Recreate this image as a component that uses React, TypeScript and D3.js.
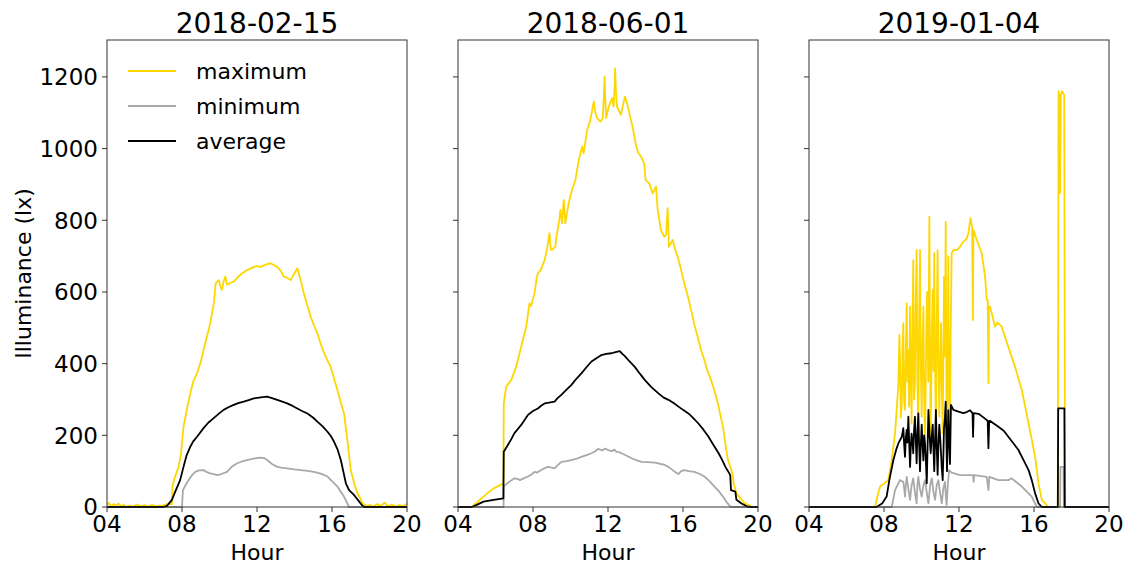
import React from "react";
import * as d3 from "d3";

type P = [number, number];

const titles = ["2018-02-15", "2018-06-01", "2019-01-04"];
const xTicks = [4, 8, 12, 16, 20];
const xTickLabels = ["04", "08", "12", "16", "20"];
const yTicks = [0, 200, 400, 600, 800, 1000, 1200];
const legendLabels = ["maximum", "minimum", "average"];
const seriesColors = ["#FFD700", "#A9A9A9", "#000000"];

const p1Max: P[] = [[4.0,5],[4.1,12],[4.2,2],[4.35,8],[4.5,3],[4.6,10],[4.75,2],[4.9,6],[5.0,0],[5.2,4],[5.4,1],[5.6,7],[5.8,2],[6.0,5],[6.2,1],[6.4,6],[6.6,2],[6.8,4],[6.95,3],[7.2,8],[7.46,8],[7.5,60],[7.6,80],[7.82,112],[7.95,150],[8.08,224],[8.25,270],[8.44,317],[8.6,350],[8.8,373],[9.0,405],[9.15,438],[9.35,480],[9.51,513],[9.7,570],[9.8,625],[9.87,629],[9.96,633],[10.05,615],[10.13,606],[10.22,630],[10.31,643],[10.4,620],[10.55,625],[10.76,629],[10.95,640],[11.12,648],[11.3,655],[11.47,661],[11.65,665],[11.83,670],[12.0,672],[12.19,670],[12.4,675],[12.55,678],[12.72,680],[12.9,675],[13.08,670],[13.25,660],[13.43,643],[13.6,640],[13.79,633],[13.95,648],[14.15,666],[14.33,633],[14.5,596],[14.7,560],[14.86,531],[15.05,505],[15.22,485],[15.4,455],[15.58,429],[15.75,410],[15.93,391],[16.1,360],[16.29,326],[16.45,295],[16.64,261],[16.82,187],[17.0,103],[17.18,66],[17.36,38],[17.5,25],[17.63,10],[17.9,2],[18.0,6],[18.2,1],[18.4,8],[18.6,3],[18.8,12],[19.0,2],[19.2,7],[19.4,1],[19.6,5],[19.8,2],[20.0,9]];
const p1Min: P[] = [[4,0],[8.0,0],[8.05,47],[8.2,62],[8.35,75],[8.55,90],[8.71,98],[8.9,102],[9.15,103],[9.3,98],[9.51,94],[9.7,92],[9.87,89],[10.1,92],[10.4,98],[10.65,112],[10.94,122],[11.2,127],[11.47,131],[11.8,135],[12.19,138],[12.4,136],[12.54,131],[12.8,120],[13.08,112],[13.3,110],[13.61,108],[14.0,105],[14.33,103],[14.7,101],[15.04,98],[15.4,93],[15.76,85],[16.0,72],[16.29,57],[16.45,44],[16.64,29],[16.8,12],[16.91,0],[20,0]];
const p1Avg: P[] = [[4,0],[7.0,0],[7.2,3],[7.46,20],[7.64,43],[7.9,75],[8.08,112],[8.25,145],[8.44,168],[8.6,183],[8.8,196],[9.15,220],[9.4,235],[9.69,248],[10.0,262],[10.22,271],[10.5,279],[10.76,285],[11.0,290],[11.29,294],[11.6,299],[11.83,303],[12.2,306],[12.54,308],[12.8,304],[13.08,299],[13.35,294],[13.61,289],[13.9,282],[14.15,275],[14.4,268],[14.69,261],[15.0,249],[15.22,238],[15.5,225],[15.76,210],[15.95,197],[16.11,182],[16.3,160],[16.47,131],[16.6,100],[16.74,66],[16.91,47],[17.05,40],[17.18,33],[17.3,25],[17.45,15],[17.6,5],[17.72,0],[20,0]];

const p2Max: P[] = [[4,0],[4.73,0],[5.0,12],[5.36,29],[5.6,40],[5.9,52],[6.25,61],[6.42,66],[6.44,289],[6.57,336],[6.84,354],[7.1,391],[7.37,447],[7.64,503],[7.81,568],[7.9,560],[8.08,596],[8.2,640],[8.26,652],[8.4,660],[8.62,689],[8.75,720],[8.88,764],[8.95,717],[9.05,720],[9.19,726],[9.25,754],[9.4,800],[9.46,829],[9.55,792],[9.64,857],[9.72,792],[9.9,847],[10.08,885],[10.26,912],[10.35,940],[10.44,968],[10.62,1006],[10.7,987],[10.89,1052],[11.06,1080],[11.15,1105],[11.24,1131],[11.35,1095],[11.42,1085],[11.6,1075],[11.72,1085],[11.78,1150],[11.82,1201],[11.86,1130],[11.9,1085],[12.04,1117],[12.22,1141],[12.3,1117],[12.36,1180],[12.38,1224],[12.42,1160],[12.48,1117],[12.69,1094],[12.9,1145],[13.04,1122],[13.2,1085],[13.31,1061],[13.49,1010],[13.6,990],[13.76,978],[13.93,959],[14.0,913],[14.2,903],[14.38,875],[14.56,894],[14.65,829],[14.82,773],[15.0,754],[15.1,760],[15.18,834],[15.25,726],[15.45,745],[15.6,715],[15.72,698],[15.9,661],[16.07,624],[16.25,590],[16.43,550],[16.6,510],[16.78,475],[16.95,440],[17.14,410],[17.3,380],[17.5,354],[17.7,320],[17.86,289],[18.0,255],[18.13,224],[18.28,170],[18.4,131],[18.58,103],[18.65,90],[18.7,66],[18.85,38],[19.12,20],[19.3,10],[19.48,6],[19.7,0],[20,0]];
const p2Min: P[] = [[4,0],[6.43,0],[6.44,57],[6.6,65],[6.75,71],[7.01,80],[7.2,78],[7.3,75],[7.5,80],[7.73,85],[7.9,90],[8.08,98],[8.2,96],[8.44,103],[8.6,108],[8.8,112],[9.0,110],[9.15,108],[9.35,118],[9.51,126],[9.8,128],[10.04,131],[10.3,134],[10.58,140],[10.85,145],[11.12,150],[11.3,155],[11.47,162],[11.7,158],[11.85,163],[12.01,159],[12.2,156],[12.35,160],[12.45,154],[12.6,153],[12.72,150],[13.0,143],[13.26,136],[13.5,131],[13.79,126],[14.1,125],[14.5,124],[14.8,120],[15.0,118],[15.22,112],[15.4,105],[15.6,97],[15.76,92],[15.9,100],[16.07,103],[16.3,100],[16.61,98],[16.9,92],[17.14,85],[17.4,73],[17.68,57],[17.9,45],[18.13,29],[18.35,12],[18.54,0],[20,0]];
const p2Avg: P[] = [[4,0],[4.73,0],[5.0,6],[5.36,15],[5.9,20],[6.42,24],[6.44,154],[6.66,173],[6.85,190],[7.01,206],[7.2,218],[7.37,229],[7.55,243],[7.73,257],[8.0,268],[8.26,275],[8.45,283],[8.62,289],[8.85,291],[9.15,294],[9.3,303],[9.51,313],[9.8,328],[10.04,340],[10.3,357],[10.58,373],[10.85,390],[11.12,406],[11.4,416],[11.65,424],[11.9,427],[12.19,429],[12.4,432],[12.63,435],[12.75,428],[12.9,421],[13.15,406],[13.43,391],[13.7,372],[13.97,354],[14.3,335],[14.69,317],[14.95,306],[15.22,299],[15.5,290],[15.76,280],[16.0,271],[16.29,261],[16.55,248],[16.82,233],[17.1,215],[17.36,196],[17.6,175],[17.9,150],[18.1,130],[18.26,112],[18.4,100],[18.52,89],[18.56,47],[18.79,43],[18.85,20],[19.12,10],[19.4,2],[19.6,0],[20,0]];

const p3Max: P[] = [[4,0],[7.52,0],[7.65,30],[7.79,57],[8.0,65],[8.23,75],[8.41,131],[8.59,206],[8.77,345],[8.82,480],[8.85,419],[8.9,250],[8.95,289],[8.99,450],[9.03,513],[9.07,300],[9.12,271],[9.16,420],[9.21,568],[9.25,350],[9.30,438],[9.34,280],[9.39,559],[9.43,400],[9.47,233],[9.51,450],[9.56,689],[9.6,300],[9.65,345],[9.69,560],[9.74,717],[9.78,350],[9.83,215],[9.87,500],[9.92,717],[9.96,400],[10.01,252],[10.05,450],[10.10,559],[10.14,300],[10.19,187],[10.24,420],[10.3,600],[10.36,350],[10.42,810],[10.45,450],[10.49,196],[10.55,480],[10.60,606],[10.64,380],[10.68,708],[10.72,400],[10.77,215],[10.81,500],[10.86,717],[10.9,400],[10.95,252],[11.0,420],[11.04,513],[11.08,350],[11.13,206],[11.17,450],[11.2,643],[11.25,420],[11.29,796],[11.33,300],[11.36,159],[11.4,400],[11.43,699],[11.47,350],[11.52,187],[11.56,500],[11.61,708],[11.70,717],[11.88,717],[12.05,726],[12.23,740],[12.41,749],[12.5,764],[12.62,806],[12.7,780],[12.74,522],[12.77,773],[12.95,745],[13.21,708],[13.39,643],[13.48,578],[13.53,578],[13.57,345],[13.6,560],[13.66,559],[13.92,503],[14.05,515],[14.28,503],[14.45,475],[14.63,447],[14.99,391],[15.35,326],[15.71,233],[16.06,140],[16.24,66],[16.42,20],[16.6,10],[16.77,0],[17.27,0],[17.31,1160],[17.36,1140],[17.39,876],[17.43,1150],[17.5,1160],[17.61,1150],[17.66,0],[20,0]];
const p3Min: P[] = [[4,0],[8.41,0],[8.59,47],[8.85,75],[9.03,70],[9.08,50],[9.12,29],[9.16,60],[9.21,84],[9.3,50],[9.39,20],[9.47,60],[9.56,80],[9.65,40],[9.74,10],[9.78,60],[9.83,84],[9.92,50],[10.01,29],[10.1,60],[10.19,75],[10.28,40],[10.37,10],[10.46,60],[10.55,80],[10.63,45],[10.72,20],[10.81,60],[10.9,75],[10.99,40],[11.08,10],[11.16,50],[11.25,70],[11.3,30],[11.34,5],[11.4,60],[11.47,103],[11.61,96],[12.05,89],[12.4,89],[12.75,89],[12.78,70],[12.81,89],[13.48,84],[13.57,47],[13.62,84],[14.1,75],[14.63,75],[14.81,80],[15.35,57],[15.88,29],[16.15,0],[17.39,0],[17.41,112],[17.57,112],[17.59,0],[20,0]];
const p3Avg: P[] = [[4,0],[7.6,0],[7.9,10],[8.14,29],[8.3,80],[8.5,131],[8.65,160],[8.77,178],[8.95,196],[9.03,220],[9.08,170],[9.12,140],[9.16,190],[9.21,215],[9.25,180],[9.30,252],[9.35,170],[9.39,112],[9.43,170],[9.47,205],[9.52,180],[9.56,150],[9.6,210],[9.65,252],[9.7,180],[9.74,122],[9.78,200],[9.83,261],[9.87,180],[9.92,100],[9.96,170],[10.01,230],[10.05,180],[10.10,130],[10.14,200],[10.19,175],[10.24,120],[10.28,66],[10.33,180],[10.37,271],[10.43,200],[10.49,150],[10.55,200],[10.60,230],[10.64,160],[10.68,100],[10.72,180],[10.77,271],[10.81,170],[10.86,90],[10.9,170],[10.95,230],[11.0,190],[11.04,150],[11.08,110],[11.13,75],[11.17,150],[11.2,220],[11.25,250],[11.29,294],[11.33,180],[11.36,100],[11.4,190],[11.43,270],[11.47,190],[11.52,120],[11.57,285],[11.70,271],[11.97,266],[12.23,262],[12.41,265],[12.59,270],[12.72,262],[12.75,196],[12.78,262],[13.04,260],[13.3,250],[13.48,243],[13.53,240],[13.57,164],[13.61,240],[13.66,240],[14.1,224],[14.4,212],[14.63,196],[14.9,178],[15.17,159],[15.45,130],[15.71,103],[15.88,75],[16.06,38],[16.24,10],[16.42,0],[17.27,0],[17.29,275],[17.62,275],[17.64,0],[20,0]];

const panels = [
  { title: titles[0], series: [p1Max, p1Min, p1Avg] },
  { title: titles[1], series: [p2Max, p2Min, p2Avg] },
  { title: titles[2], series: [p3Max, p3Min, p3Avg] },
];

const W = 1128, H = 565;
const panelLeft = [107, 458, 809];
const panelW = 300;
const top = 40, bottom = 507;
const FONT = "DejaVu Sans, sans-serif";

export default function App() {
  const y = d3.scaleLinear().domain([0, 1303]).range([bottom, top]);
  return (
    <>
      <style>{"body{margin:0}"}</style>
      <svg width={W} height={H} style={{ display: "block", fontFamily: FONT }}>
        <rect width={W} height={H} fill="#fff" />
        {panels.map((p, pi) => {
          const x0 = panelLeft[pi];
          const x = d3.scaleLinear().domain([4, 20]).range([x0, x0 + panelW]);
          const line = d3.line<P>().x((d) => x(d[0])).y((d) => y(d[1]));
          const cx = x0 + panelW / 2;
          return (
            <g key={pi}>
              <clipPath id={`clip${pi}`}>
                <rect x={x0} y={top} width={panelW} height={bottom - top + 1} />
              </clipPath>
              <g clipPath={`url(#clip${pi})`}>
                {p.series.map((s, si) => (
                  <path key={si} d={line(s) || ""} fill="none" stroke={seriesColors[si]} strokeWidth={1.8} strokeLinejoin="round" />
                ))}
              </g>
              <rect x={x0} y={top} width={panelW} height={bottom - top} fill="none" stroke="#333" strokeWidth={1} />
              {yTicks.map((t) => (
                <g key={t}>
                  <line x1={x0 - 5} x2={x0} y1={y(t)} y2={y(t)} stroke="#333" strokeWidth={1} />
                  {pi === 0 && (
                    <text x={x0 - 9} y={y(t)} dy="0.36em" textAnchor="end" fontSize={23}>{t}</text>
                  )}
                </g>
              ))}
              {xTicks.map((t, ti) => (
                <g key={t}>
                  <line x1={x(t)} x2={x(t)} y1={bottom} y2={bottom + 5} stroke="#333" strokeWidth={1} />
                  <text x={x(t)} y={532} textAnchor="middle" fontSize={23}>{xTickLabels[ti]}</text>
                </g>
              ))}
              <text x={cx} y={33} textAnchor="middle" fontSize={28}>{p.title}</text>
              <text x={cx} y={560} textAnchor="middle" fontSize={22}>Hour</text>
            </g>
          );
        })}
        <text transform={`translate(31,${(top + bottom) / 2}) rotate(-90)`} textAnchor="middle" fontSize={22}>Illuminance (lx)</text>
        {legendLabels.map((l, i) => (
          <g key={l}>
            <line x1={128} x2={176} y1={71 + i * 35} y2={71 + i * 35} stroke={seriesColors[i]} strokeWidth={1.8} />
            <text x={196} y={71 + i * 35} dy="0.36em" fontSize={22}>{l}</text>
          </g>
        ))}
      </svg>
    </>
  );
}
